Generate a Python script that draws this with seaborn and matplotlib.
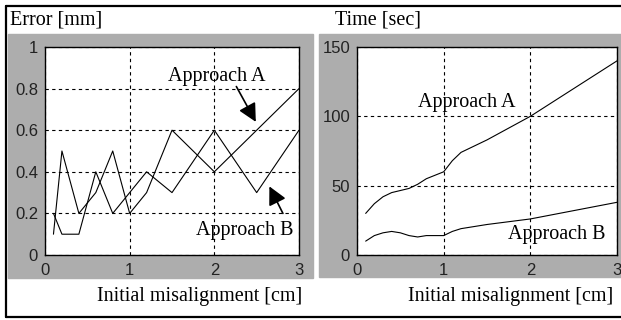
import matplotlib
matplotlib.use('Agg')
import matplotlib.pyplot as plt
from matplotlib.patches import Rectangle
from matplotlib.lines import Line2D
from matplotlib.ticker import FormatStrFormatter
import pandas as pd
import seaborn as sns

# Error vs initial misalignment
err_x = [0.1, 0.2, 0.4, 0.6, 0.8, 1.0, 1.2, 1.5, 2.0, 2.5, 3.0]
err_a = [0.1, 0.5, 0.2, 0.3, 0.5, 0.2, 0.3, 0.6, 0.4, 0.6, 0.8]
err_b = [0.2, 0.1, 0.1, 0.4, 0.2, 0.3, 0.4, 0.3, 0.6, 0.3, 0.6]

# Time vs initial misalignment
time_a_x = [0.1, 0.2, 0.3, 0.4, 0.5, 0.6, 0.7, 0.8, 0.9, 1.0, 1.1, 1.2, 1.5, 2.0, 2.5, 3.0]
time_a = [30, 37, 42, 45, 46.5, 48, 51, 55, 57.5, 60, 68, 74, 83, 100, 120, 140]
time_b_x = [0.1, 0.2, 0.3, 0.4, 0.5, 0.6, 0.7, 0.8, 1.0, 1.1, 1.2, 1.5, 2.0, 2.5, 3.0]
time_b = [10, 14, 16, 17, 16, 14, 13, 14, 14, 17, 19, 22, 26, 32, 38]

err_yticks = [0, 0.2, 0.4, 0.6, 0.8, 1]
time_yticks = [0, 50, 100, 150]
xticks = [0, 1, 2, 3]

sns.set_theme(style='white')
plt.rcParams['font.family'] = ['Liberation Sans', 'DejaVu Sans']
plt.rcParams['text.color'] = 'black'

W, H = 621, 320
fig = plt.figure(figsize=(W / 100, H / 100), dpi=100)
fig.patch.set_facecolor('white')

GRAY = '#adadad'
SERIF = ['Liberation Serif', 'DejaVu Serif']

# gray panel backgrounds
fig.patches.append(Rectangle((8 / W, 1 - 278 / H), 305 / W, 244 / H,
                             transform=fig.transFigure, color=GRAY, zorder=-5))
fig.patches.append(Rectangle((319 / W, 1 - 277 / H), 302 / W, 243 / H,
                             transform=fig.transFigure, color=GRAY, zorder=-5))

# outer frame (top, left, bottom)
for xs, ys in [([5.5, W + 5], [5.5, 5.5]), ([5.5, 5.5], [5.5, 317]), ([5.5, W + 5], [317, 317])]:
    fig.add_artist(Line2D([x / W for x in xs], [1 - y / H for y in ys],
                          transform=fig.transFigure, color='black', lw=1.6, zorder=-4))

ax1 = fig.add_axes([45 / W, 1 - 255 / H, 254 / W, 208 / H])
ax2 = fig.add_axes([357 / W, 1 - 255 / H, 260 / W, 208 / H])


def style_axes(ax, yticks, ylim, fmt):
    ax.set_facecolor('white')
    ax.set_xlim(0, 3)
    ax.set_ylim(*ylim)
    ax.set_xticks(xticks)
    ax.set_yticks(yticks)
    ax.xaxis.set_major_formatter(FormatStrFormatter('%g'))
    ax.yaxis.set_major_formatter(FormatStrFormatter(fmt))
    ax.grid(True, color='black', linestyle=(0, (3, 3)), lw=0.8)
    ax.tick_params(length=0, labelsize=12, colors='#222222')
    ax.tick_params(axis='y', pad=5)
    ax.tick_params(axis='x', pad=6)
    for s in ax.spines.values():
        s.set_color('black')
        s.set_linewidth(1.0)
    ax.set_xlabel('')
    ax.set_ylabel('')


sns.lineplot(x=err_x, y=err_a, ax=ax1, color='black', lw=0.8)
sns.lineplot(x=err_x, y=err_b, ax=ax1, color='black', lw=0.8)
style_axes(ax1, err_yticks, (0, 1), '%g')

sns.lineplot(x=time_a_x, y=time_a, ax=ax2, color='black', lw=0.8)
sns.lineplot(x=time_b_x, y=time_b, ax=ax2, color='black', lw=0.8)
style_axes(ax2, time_yticks, (0, 150), '%g')

arrow = dict(arrowstyle='-|>,head_length=0.55,head_width=0.28', color='black',
             lw=1.2, mutation_scale=20, shrinkA=0, shrinkB=0)
ax1.text(2.03, 0.86, 'Approach A', ha='center', va='center', fontsize=14.5, family=SERIF)
ax1.annotate('', xy=(2.49, 0.64), xytext=(2.26, 0.81), arrowprops=arrow)
ax1.text(2.36, 0.12, 'Approach B', ha='center', va='center', fontsize=14.5, family=SERIF)
ax1.annotate('', xy=(2.65, 0.33), xytext=(2.81, 0.20), arrowprops=arrow)

ax2.text(1.27, 110, 'Approach A', ha='center', va='center', fontsize=14.5, family=SERIF)
ax2.text(2.30, 14.5, 'Approach B', ha='center', va='center', fontsize=14.5, family=SERIF)

# panel titles and x labels
fig.text(10 / W, 1 - 20 / H, 'Error [mm]', ha='left', va='center', fontsize=14.5, family=SERIF)
fig.text(335 / W, 1 - 20 / H, 'Time [sec]', ha='left', va='center', fontsize=14.5, family=SERIF)
fig.text(302 / W, 1 - 297 / H, 'Initial misalignment [cm]', ha='right', va='center',
         fontsize=14.5, family=SERIF)
fig.text(613 / W, 1 - 297 / H, 'Initial misalignment [cm]', ha='right', va='center',
         fontsize=14.5, family=SERIF)

fig.savefig('out.png', dpi=100)
